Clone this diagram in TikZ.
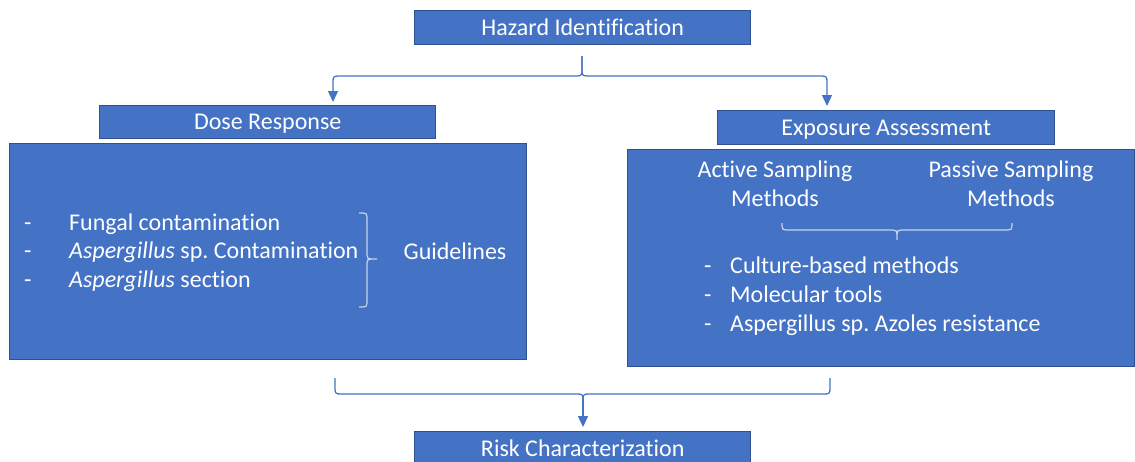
\documentclass[tikz,border=0pt]{standalone}
\usepackage{fontspec}
\setmainfont{Carlito}[Ligatures=NoCommon]
\usetikzlibrary{arrows.meta,calc}
\definecolor{boxfill}{HTML}{4472C4}
\definecolor{boxline}{HTML}{2F528F}
\definecolor{connc}{HTML}{4472C4}
\definecolor{bracec}{HTML}{C5D3EC}
\newcommand\dfont{\fontsize{24}{28}\selectfont}
\frenchspacing
\begin{document}
\begin{tikzpicture}[x=1pt,y=-1pt,
  box/.style={draw=boxline, fill=boxfill, line width=1.4pt, inner sep=0pt, text=white, font=\dfont, text height=20pt, text depth=5pt, anchor=north west},
  panel/.style={draw=boxline, fill=boxfill, line width=1.4pt, inner sep=0pt, anchor=north west},
  txt/.style={text=white, font=\dfont, inner sep=0pt, anchor=base west},
  ctxt/.style={txt, anchor=base},
  conn/.style={draw=connc, line width=1.3pt},
  arr/.style={conn, -{Triangle[length=11pt,width=10pt]}},
  inbrace/.style={draw=bracec, line width=1.2pt}]
\useasboundingbox (0,0) rectangle (1135,461);

% panels
\node[panel, minimum width=517pt, minimum height=216pt] (lp) at (9,143) {};
\node[panel, minimum width=507pt, minimum height=217pt] (rp) at (627,149) {};

% title boxes
\node[box, minimum width=336pt, minimum height=34pt] (haz) at (414,10) {Hazard Identification};
\node[box, minimum width=336pt, minimum height=33pt] (dose) at (99,105) {Dose Response};
\node[box, minimum width=337pt, minimum height=34pt] (expo) at (717,110) {Exposure Assessment};
\node[box, minimum width=336pt, minimum height=34pt] (risk) at (414,431) {Risk Characterization};

% top brace with arrows
\coordinate (tm) at (582,56);
\coordinate (tl) at (333,76);
\coordinate (tr) at (827,76);
\draw[arr, shorten >=3pt] (tm) -- ++(0,14) .. controls +(0,4) and +(5,0) .. ++(-5,6)
  -- ($(tl)+(5,0)$) .. controls +(-4,0) and +(0,-4) .. ++(-5,5) -- (tl |- dose.north);
\draw[arr, shorten >=4pt] (tm) -- ++(0,14) .. controls +(0,4) and +(-5,0) .. ++(5,6)
  -- ($(tr)+(-5,0)$) .. controls +(4,0) and +(0,-4) .. ++(5,5) -- (tr |- expo.north);

% bottom brace with arrow
\coordinate (bl) at (335,394);
\coordinate (br) at (830,394);
\coordinate (bm) at (583,394);
\draw[conn] ($(bl)+(0,-16)$) -- ++(0,11) .. controls +(0,4) and +(-4,0) .. ++(5,5)
  -- ($(bm)+(-5,0)$) .. controls +(4,0) and +(0,-4) .. ++(5,5);
\draw[conn] ($(br)+(0,-16)$) -- ++(0,11) .. controls +(0,4) and +(4,0) .. ++(-5,5)
  -- ($(bm)+(5,0)$) .. controls +(-4,0) and +(0,-4) .. ++(-5,5);
\draw[arr, shorten >=4pt] ($(bm)+(0,5)$) -- (bm |- risk.north);

% left panel content
\node[txt] (d1) at (24,230) {-};
\node[txt] (l1) at (69,230) {Fungal contamination};
\node[txt] (d2) at (24,258) {-};
\node[txt] (l2) at (69,258) {\textit{Aspergillus} sp. Contamination};
\node[txt] (d3) at (24,287) {-};
\node[txt] (l3) at (69,287) {\textit{Aspergillus} section};
\node[ctxt] (gl) at (455,259) {Guidelines};
\draw[inbrace] (359,213) -- ++(4,0) .. controls +(3,0) and +(0,-3) .. ++(4,4) -- (367,255)
  .. controls +(0,3) and +(-3,0) .. ++(4,4) -- (377,259);
\draw[inbrace] (359,307) -- ++(4,0) .. controls +(3,0) and +(0,3) .. ++(4,-4) -- (367,263)
  .. controls +(0,-3) and +(-3,0) .. ++(4,-4);

% right panel content
\node[ctxt] (a1) at (775,177) {Active Sampling};
\node[ctxt] (a2) at (775,206) {Methods};
\node[ctxt] (p1) at (1011,177) {Passive Sampling};
\node[ctxt] (p2) at (1011,206) {Methods};
\draw[inbrace] (782,223) -- ++(0,3) .. controls +(0,3) and +(-3,0) .. ++(4,4) -- (893,230)
  .. controls +(3,0) and +(0,-3) .. ++(4,4) -- (897,240);
\draw[inbrace] (1012,223) -- ++(0,3) .. controls +(0,3) and +(3,0) .. ++(-4,4) -- (901,230)
  .. controls +(-3,0) and +(0,-3) .. ++(-4,4);
\node[txt] (e1) at (704,273) {-};
\node[txt] (m1) at (730,273) {Culture-based methods};
\node[txt] (e2) at (704,302) {-};
\node[txt] (m2) at (730,302) {Molecular tools};
\node[txt] (e3) at (704,331) {-};
\node[txt] (m3) at (730,331) {Aspergillus sp. Azoles resistance};
\end{tikzpicture}
\end{document}
